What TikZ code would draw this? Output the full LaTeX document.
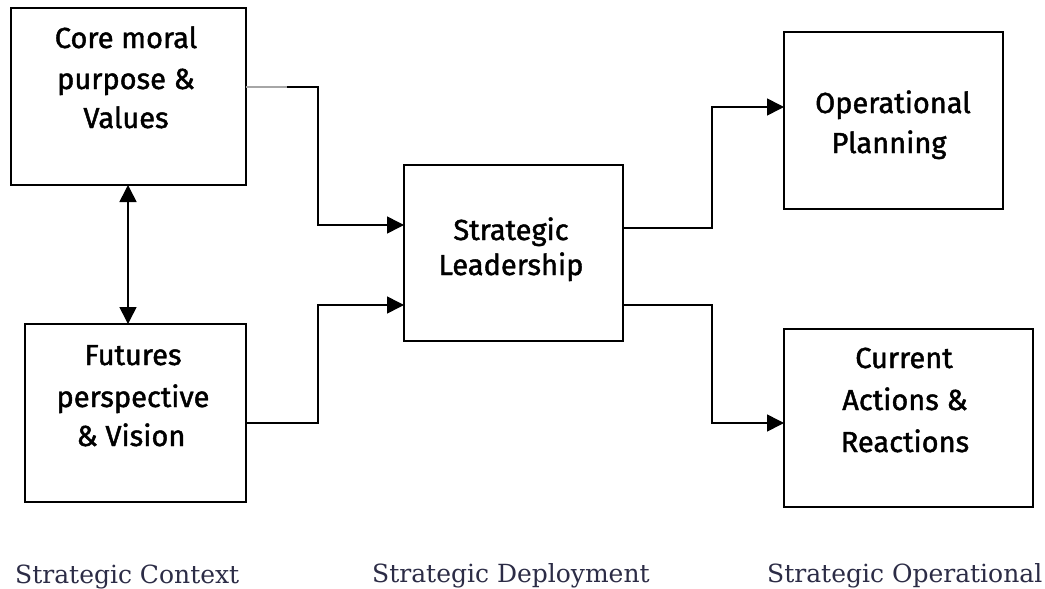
\documentclass[tikz,border=0pt]{standalone}
\usepackage{fontspec}
\setmainfont{DejaVu Serif}
\font\boxfnt="Fira Sans:embolden=1.5" at 29pt
\usetikzlibrary{arrows.meta}
\definecolor{captxt}{RGB}{44,44,70}
\tikzset{
  box/.style={draw=black, line width=1.6pt, inner sep=0pt, outer sep=0pt, fill=white},
  btxt/.style={anchor=base, inner sep=0pt, font=\boxfnt},
  captext/.style={anchor=base west, inner sep=0pt, text=captxt, font=\fontsize{25}{30}\selectfont},
  arr/.style={line width=1.6pt, -{Triangle[length=17pt,width=17pt]}},
  darr/.style={line width=1.6pt, {Triangle[length=17pt,width=17pt]}-{Triangle[length=17pt,width=17pt]}}
}
\begin{document}
\begin{tikzpicture}[x=1pt,y=-1pt]
\useasboundingbox[fill=white] (0,0) rectangle (1045,589);
% boxes
\node[box, minimum width=235pt, minimum height=177pt] (b1) at (128.5,96.5) {};
\node[box, minimum width=221pt, minimum height=178pt] (b2) at (135.5,413) {};
\node[box, minimum width=219pt, minimum height=176pt] (b3) at (513.5,253) {};
\node[box, minimum width=219pt, minimum height=177pt] (b4) at (893.5,120.5) {};
\node[box, minimum width=249pt, minimum height=178pt] (b5) at (908.5,418) {};
% box texts
\node[btxt] (t1a) at (126,48) {Core moral};
\node[btxt] (t1b) at (126,89) {purpose \&};
\node[btxt] (t1c) at (126,128) {Values};
\node[btxt] (t2a) at (133,365) {Futures};
\node[btxt] (t2b) at (133,407) {perspective};
\node[btxt] (t2c) at (131,446) {\& Vision};
\node[btxt] (t3a) at (511,240) {Strategic};
\node[btxt] (t3b) at (511,275) {Leadership};
\node[btxt] (t4a) at (893,113) {Operational};
\node[btxt] (t4b) at (889,153) {Planning};
\node[btxt] (t5a) at (904,368) {Current};
\node[btxt] (t5b) at (905,410) {Actions \&};
\node[btxt] (t5c) at (905,452) {Reactions};
% connectors
\coordinate (j1) at (318,225);
\coordinate (j2) at (318,305);
\coordinate (j3) at (712,107);
\coordinate (j4) at (712,423);
\draw[arr] (b1.east |- 0,87) -| (j1) -- (b3.west |- j1);
\draw[line width=1.6pt, gray!70, line cap=butt] (b1.east |- 0,87) -- (287,87);
\draw[arr] (b2.east |- 0,423) -| (j2) -- (b3.west |- j2);
\draw[arr] (b3.east |- 0,228) -| (j3) -- (b4.west |- j3);
\draw[arr] (b3.east |- 0,305) -| (j4) -- (b5.west |- j4);
\draw[darr] (b1.south -| 128,0) -- (b2.north -| 128,0);
% captions
\node[captext] (c1) at (15,583) {Strategic Context};
\node[captext] (c2) at (372,582) {Strategic Deployment};
\node[captext] (c3) at (767,582) {Strategic Operational};
\end{tikzpicture}
\end{document}
